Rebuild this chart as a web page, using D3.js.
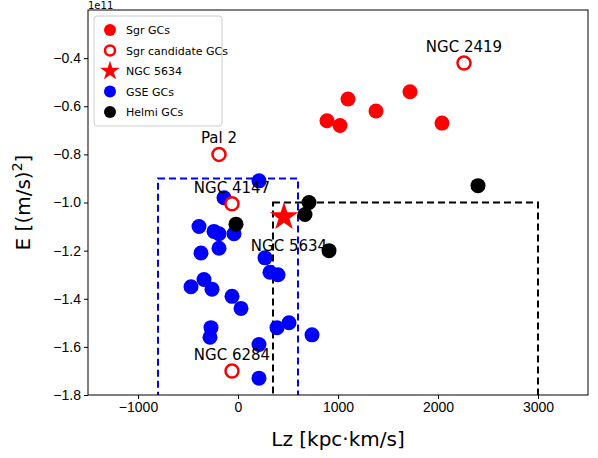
<!DOCTYPE html>
<html><head><meta charset="utf-8">
<script src="https://cdn.jsdelivr.net/npm/d3@7"></script>
<style>body{margin:0;background:#fff;font-family:"DejaVu Sans",sans-serif}</style>
</head><body>
<svg id="chart" width="598" height="458"></svg>
<script>
// values in units of 1e11 (m/s)^2
var sgrGCs = [[1100,-0.57],[890,-0.66],[1020,-0.68],[1380,-0.62],[1720,-0.54],[2040,-0.67]];
var sgrCand = [[2260,-0.42,"NGC 2419"],[-190,-0.80,"Pal 2"],[-60,-1.005,"NGC 4147"],[-60,-1.70,"NGC 6284"]];
var ngc5634 = [[460,-1.06]];
var gseGCs = [[210,-0.91],[-140,-0.98],[-390,-1.10],[-240,-1.12],[-190,-1.13],[-40,-1.13],[-370,-1.21],
  [-190,-1.19],[270,-1.23],[320,-1.29],[400,-1.30],[-470,-1.35],[-340,-1.32],[-260,-1.36],[-60,-1.39],
  [30,-1.44],[390,-1.52],[510,-1.50],[740,-1.55],[-270,-1.52],[-280,-1.56],[210,-1.59],[210,-1.73]];
var helmiGCs = [[710,-1.00],[670,-1.05],[-20,-1.09],[910,-1.20],[2400,-0.93]];
var gseBox = [[-800,600],[-0.90,-1.85]];
var helmiBox = [[350,3000],[-1.0,-1.85]];
var xTicks = [-1000,0,1000,2000,3000];
var yTicks = [-0.4,-0.6,-0.8,-1.0,-1.2,-1.4,-1.6,-1.8];

var m = {l:88,t:10,r:10,b:63}, W = 598, H = 458;
var svg = d3.select("#chart");
var x = d3.scaleLinear().domain([-1500,3500]).range([m.l, W-m.r]);
var y = d3.scaleLinear().domain([-1.8,-0.2]).range([H-m.b, m.t]);
var clip = svg.append("clipPath").attr("id","c").append("rect")
  .attr("x",m.l).attr("y",m.t).attr("width",W-m.l-m.r).attr("height",H-m.t-m.b);
var g = svg.append("g").attr("clip-path","url(#c)");

function box(b, col){
  g.append("rect").attr("x",x(b[0][0])).attr("y",y(b[1][0]))
    .attr("width",x(b[0][1])-x(b[0][0])).attr("height",y(b[1][1])-y(b[1][0]))
    .attr("fill","none").attr("stroke",col).attr("stroke-width",2).attr("stroke-dasharray","7,4");
}
box(gseBox,"blue"); box(helmiBox,"black");

function dots(data, fill){
  g.selectAll(null).data(data).enter().append("circle")
    .attr("cx",function(d){return x(d[0]);}).attr("cy",function(d){return y(d[1]);})
    .attr("r",7.5).attr("fill",fill);
}
dots(sgrGCs,"red"); dots(gseGCs,"blue"); dots(helmiGCs,"black");
g.selectAll(null).data(sgrCand).enter().append("circle")
  .attr("cx",function(d){return x(d[0]);}).attr("cy",function(d){return y(d[1]);})
  .attr("r",6.5).attr("fill","#fff").attr("stroke","red").attr("stroke-width",2.5);
var star = d3.symbol().type(d3.symbolStar).size(250);
g.selectAll(null).data(ngc5634).enter().append("path").attr("d",star)
  .attr("transform",function(d){return "translate("+x(d[0])+","+y(d[1])+")";}).attr("fill","red");

svg.selectAll(null).data(sgrCand).enter().append("text")
  .attr("x",function(d){return x(d[0]);}).attr("y",function(d){return y(d[1])-11;})
  .attr("text-anchor","middle").attr("font-size",15).text(function(d){return d[2];});
svg.selectAll(null).data(ngc5634).enter().append("text")
  .attr("x",function(d){return x(d[0])+5;}).attr("y",function(d){return y(d[1])+34;})
  .attr("text-anchor","middle").attr("font-size",15).text("NGC 5634");

var xa = svg.append("g").attr("transform","translate(0,"+(H-m.b)+")")
  .call(d3.axisBottom(x).tickValues(xTicks).tickSize(4).tickFormat(function(d){return d<0?"\u2212"+(-d):d;}));
var ya = svg.append("g").attr("transform","translate("+m.l+",0)")
  .call(d3.axisLeft(y).tickValues(yTicks).tickSize(4).tickFormat(function(d){return (d<0?"\u2212":"")+Math.abs(d).toFixed(1);}));
[xa,ya].forEach(function(a){a.selectAll("text").attr("font-size",14).attr("fill","#000");a.select(".domain").remove();});
svg.append("rect").attr("x",m.l).attr("y",m.t).attr("width",W-m.l-m.r).attr("height",H-m.t-m.b)
  .attr("fill","none").attr("stroke","#000");
svg.append("text").attr("x",m.l).attr("y",m.t-1).attr("font-size",10).text("1e11");
svg.append("text").attr("x",(m.l+W-m.r)/2).attr("y",H-12).attr("text-anchor","middle").attr("font-size",20).text("Lz [kpc\u00b7km/s]");
svg.append("text").attr("transform","translate(30,"+((m.t+H-m.b)/2)+") rotate(-90)").attr("text-anchor","middle")
  .attr("font-size",20).html("E [(m/s)<tspan dy='-8' font-size='14'>2</tspan><tspan dy='8'>]</tspan>");

// legend
var lg = svg.append("g").attr("transform","translate(94,16)");
lg.append("rect").attr("width",128).attr("height",110).attr("rx",3).attr("fill","#fff").attr("stroke","#ccc");
var items = [["Sgr GCs","dot","red"],["Sgr candidate GCs","open","red"],["NGC 5634","star","red"],["GSE GCs","dot","blue"],["Helmi GCs","dot","black"]];
items.forEach(function(it,i){
  var yy = 14 + i*20.5, c = lg.append("g").attr("transform","translate(16,"+yy+")");
  if(it[1]=="dot") c.append("circle").attr("r",6).attr("fill",it[2]);
  else if(it[1]=="open") c.append("circle").attr("r",5).attr("fill","#fff").attr("stroke",it[2]).attr("stroke-width",2.5);
  else c.append("path").attr("d",d3.symbol().type(d3.symbolStar).size(120)).attr("fill",it[2]);
  lg.append("text").attr("x",32).attr("y",yy+4).attr("font-size",11).text(it[0]);
});
</script>
</body></html>
